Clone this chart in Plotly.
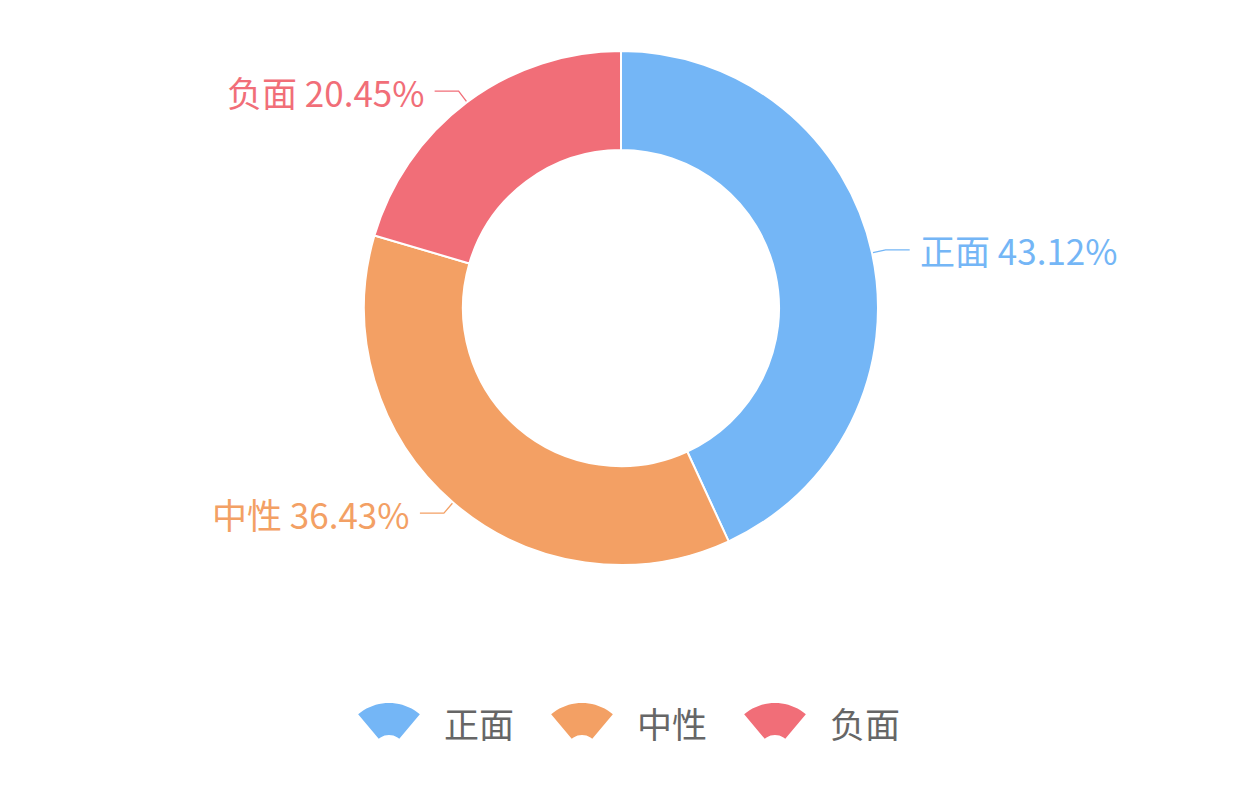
import math
import plotly.graph_objects as go

W, H = 1242, 800

# data
labels = ["正面", "中性", "负面"]
values = [43.12, 36.43, 20.45]
colors = ["#74b6f6", "#f3a064", "#f16e78"]

# donut geometry in pixels (page body adds an 8px margin)
OFF = 8
CX, CY, R = 621 - OFF, 308 - OFF, 257
HOLE = 0.615
FONT = "Noto Sans CJK SC, Noto Sans, sans-serif"


def px(x):
    return x / W


def py(y):
    return 1 - y / H


fig = go.Figure()
fig.add_trace(go.Pie(labels=labels,
                     values=values,
                     hole=HOLE,
                     sort=False,
                     direction="clockwise",
                     rotation=0,
                     textinfo="none",
                     hoverinfo="label+percent",
                     showlegend=False,
                     marker=dict(colors=colors, line=dict(color="white", width=2)),
                     domain=dict(x=[px(CX - R), px(CX + R)], y=[py(CY + R), py(CY - R)])
                     ))

# outside labels with leader lines
shapes = []
annotations = []
total = sum(values)
cum = 0
for lab, val, col in zip(labels, values, colors):
    mid = cum + val / 2
    cum += val
    ang = math.radians(90 - 360 * mid / total)
    dx, dy = math.cos(ang), -math.sin(ang)
    x0, y0 = CX + (R + 1) * dx, CY + (R + 1) * dy
    x1, y1 = CX + (R + 14) * dx, CY + (R + 14) * dy
    side = 1 if dx >= 0 else -1
    x2 = x1 + side * 24
    shapes.append(dict(type="path", xref="paper", yref="paper",
                       path="M %f %f L %f %f L %f %f" % (px(x0), py(y0), px(x1), py(y1), px(x2), py(y1)),
                       line=dict(color=col, width=1.3)))
    annotations.append(dict(text="%s %.2f%%" % (lab, val),
                            x=px(x2 + side * 8), y=py(y1),
                            xref="paper", yref="paper",
                            xanchor="left" if side > 0 else "right", yanchor="middle",
                            font=dict(color=col, size=35, family=FONT),
                            showarrow=False))


# custom legend with fan-shaped icons
def fan_path(cx, top):
    r_out, r_in, half = 48, 16, 40
    oy = top + r_out
    pts = []
    for i in range(21):
        a = math.radians(90 + half - 2 * half * i / 20)
        pts.append((cx + r_out * math.cos(a), oy - r_out * math.sin(a)))
    for i in range(11):
        a = math.radians(90 - half + 2 * half * i / 10)
        pts.append((cx + r_in * math.cos(a), oy - r_in * math.sin(a)))
    s = "M %f %f " % (px(pts[0][0]), py(pts[0][1]))
    s += " ".join("L %f %f" % (px(x), py(y)) for x, y in pts[1:])
    return s + " Z"


for i, (lab, col) in enumerate(zip(labels, colors)):
    fx = 389 - OFF + 193 * i
    shapes.append(dict(type="path", xref="paper", yref="paper", path=fan_path(fx, 703 - OFF),
                       fillcolor=col, line=dict(width=0)))
    annotations.append(dict(text=lab, x=px(fx + 53), y=py(722 - OFF),
                            xref="paper", yref="paper", xanchor="left", yanchor="middle",
                            font=dict(color="#666666", size=35, family=FONT),
                            showarrow=False))

fig.update_layout(width=W, height=H,
                  margin=dict(l=0, r=0, t=0, b=0),
                  paper_bgcolor="white",
                  plot_bgcolor="white",
                  shapes=shapes,
                  annotations=annotations)

fig.write_html("out.html")
